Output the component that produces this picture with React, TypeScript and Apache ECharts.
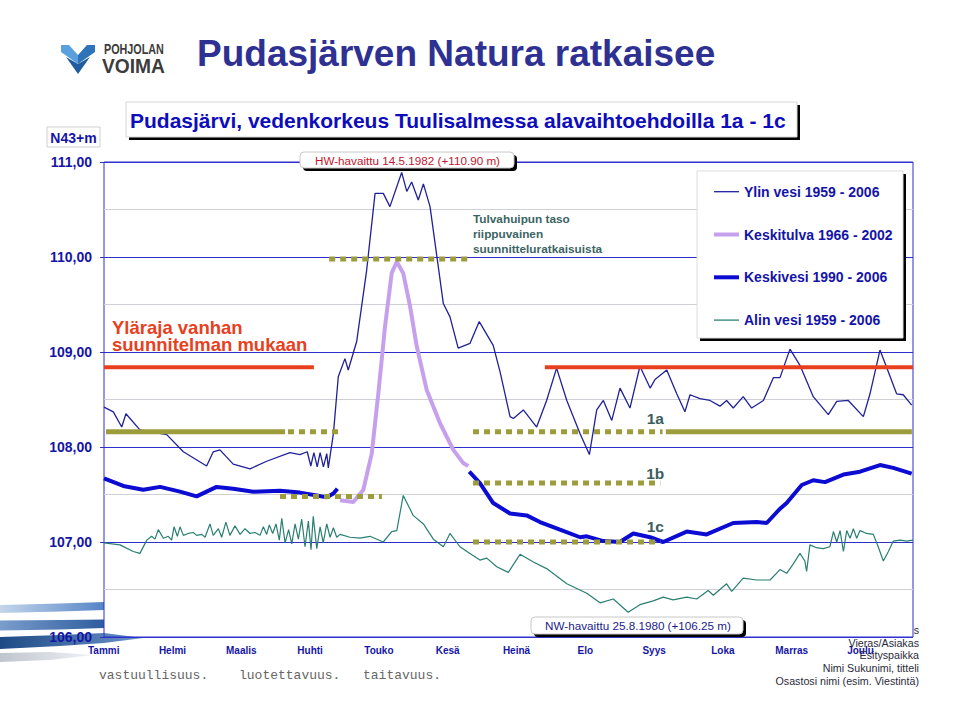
import React, { useEffect, useRef } from 'react';
import * as echarts from 'echarts';

// ---- categories / ticks ----
const kuukaudet = ['Tammi', 'Helmi', 'Maalis', 'Huhti', 'Touko', 'Kesä', 'Heinä', 'Elo', 'Syys', 'Loka', 'Marras', 'Joulu'];

// ---- series values: [day of year, water level N43+m] ----
const ylinVesi: [number, number][] = [
  [0, 108.42], [4.2, 108.37], [8.0, 108.21], [9.9, 108.35], [16.2, 108.18], [28.3, 108.13], [35.8, 107.95],
  [46.3, 107.80], [49.3, 107.95], [52.3, 107.97], [58.3, 107.82], [65.9, 107.77], [73.4, 107.85], [83.9, 107.94],
  [88.4, 107.92], [91.7, 107.95], [93.3, 107.80], [94.7, 107.94], [96.2, 107.79], [97.5, 107.94], [99.0, 107.79],
  [100.5, 107.93], [101.2, 107.78], [103.5, 108.14], [105.7, 108.74], [108.7, 108.93], [110.2, 108.81],
  [114.0, 109.11], [118.5, 109.86], [122.3, 110.67], [126.0, 110.67], [129.0, 110.53], [134.3, 110.89],
  [136.6, 110.69], [138.8, 110.79], [141.8, 110.60], [144.1, 110.77], [147.1, 110.53], [153.1, 109.51],
  [156.1, 109.37], [159.8, 109.04], [165.1, 109.09], [169.3, 109.32], [175.6, 109.07], [178.7, 108.79],
  [183.2, 108.32], [184.7, 108.30], [189.2, 108.39], [195.2, 108.21], [199.7, 108.49], [204.2, 108.83],
  [208.8, 108.49], [214.8, 108.14], [219.0, 107.92], [222.3, 108.39], [225.3, 108.49], [229.1, 108.28],
  [232.8, 108.62], [237.3, 108.41], [241.8, 108.85], [246.4, 108.62], [248.6, 108.71], [253.9, 108.81],
  [258.4, 108.56], [262.1, 108.37], [264.4, 108.55], [268.9, 108.51], [273.4, 108.49], [277.9, 108.43],
  [280.9, 108.49], [283.9, 108.41], [288.4, 108.53], [292.2, 108.41], [297.5, 108.49], [302.0, 108.73],
  [305.0, 108.73], [309.5, 109.03], [314.0, 108.86], [320.0, 108.53], [326.8, 108.34], [330.6, 108.48],
  [335.8, 108.49], [342.6, 108.32], [345.6, 108.56], [350.1, 109.02], [353.9, 108.79], [357.6, 108.56],
  [360.6, 108.55], [364.4, 108.44],
];

const keskitulva: [number, number][] = [
  [106.5, 107.44], [112.5, 107.42], [117.0, 107.55], [120.8, 107.93], [123.8, 108.57], [126.8, 109.27],
  [129.8, 109.83], [132.1, 109.95], [135.0, 109.83], [138.1, 109.48], [141.1, 109.06], [145.6, 108.60],
  [151.6, 108.25], [157.6, 107.97], [162.1, 107.83], [164.4, 107.80],
];

const keskivesiAlku: [number, number][] = [
  [0, 107.67], [8.7, 107.59], [17.7, 107.55], [25.3, 107.58], [34.3, 107.53], [41.8, 107.48], [50.8, 107.58],
  [58.3, 107.56], [67.4, 107.53], [79.4, 107.54], [88.4, 107.52], [96.0, 107.49], [100.5, 107.47],
  [103.5, 107.51], [105.3, 107.56],
];
const keskivesiLoppu: [number, number][] = [
  [164.8, 107.74], [169.6, 107.62], [175.6, 107.41], [183.2, 107.30], [190.7, 107.28], [196.7, 107.21],
  [205.7, 107.13], [214.8, 107.05], [217.8, 107.06], [225.3, 107.01], [232.8, 107.00], [238.8, 107.09],
  [246.4, 107.05], [252.3, 107.00], [262.9, 107.11], [271.9, 107.08], [283.9, 107.20], [294.5, 107.21],
  [299.0, 107.20], [305.0, 107.35], [308.0, 107.41], [314.8, 107.60], [320.0, 107.65], [325.3, 107.63],
  [333.6, 107.71], [341.1, 107.74], [350.1, 107.81], [356.1, 107.78], [364.4, 107.72],
];

const alinVesi: [number, number][] = [
  [0, 106.99], [7.2, 106.97], [13.2, 106.90], [16.2, 106.88], [19.3, 107.02], [21.5, 107.06], [23.0, 107.03],
  [24.5, 107.13], [26.8, 107.04], [29.0, 107.06], [30.5, 107.02], [31.6, 107.16], [33.1, 107.06], [34.3, 107.16],
  [35.8, 107.07], [38.0, 107.09], [40.3, 107.10], [41.8, 107.07], [44.1, 107.08], [45.6, 107.05], [47.8, 107.19],
  [49.3, 107.07], [51.6, 107.14], [53.1, 107.05], [55.0, 107.21], [56.8, 107.07], [59.1, 107.17], [61.4, 107.08],
  [63.6, 107.14], [65.9, 107.09], [68.1, 107.10], [70.4, 107.07], [71.9, 107.16], [73.4, 107.08], [74.6, 107.18],
  [76.1, 107.09], [77.6, 107.19], [79.1, 107.02], [80.2, 107.25], [81.7, 106.99], [83.3, 107.13], [84.7, 106.98],
  [86.2, 107.19], [87.7, 107.03], [89.2, 107.24], [90.7, 106.95], [92.2, 107.22], [93.4, 106.92], [94.4, 107.27],
  [96.0, 106.93], [97.5, 107.16], [98.9, 106.99], [100.5, 107.19], [102.0, 107.05], [103.5, 107.15],
  [105.0, 107.05], [106.5, 107.08], [111.0, 107.05], [115.5, 107.04], [120.0, 107.06], [126.0, 107.00],
  [129.8, 107.11], [132.1, 107.12], [135.0, 107.49], [139.5, 107.28], [144.1, 107.19], [148.6, 107.03],
  [153.1, 106.95], [156.1, 107.09], [160.6, 106.95], [165.1, 106.88], [169.6, 106.81], [172.7, 106.83],
  [177.2, 106.74], [182.4, 106.68], [187.7, 106.87], [193.7, 106.79], [199.7, 106.72], [208.8, 106.56],
  [217.8, 106.46], [223.8, 106.36], [229.8, 106.40], [236.5, 106.26], [241.8, 106.34], [247.8, 106.38],
  [252.3, 106.42], [256.8, 106.39], [262.9, 106.42], [267.4, 106.40], [272.6, 106.49], [274.9, 106.44],
  [280.9, 106.56], [283.2, 106.48], [288.4, 106.62], [294.5, 106.60], [300.5, 106.60], [305.0, 106.71],
  [308.0, 106.67], [311.0, 106.77], [314.0, 106.88], [316.2, 106.80], [317.0, 106.69], [318.5, 106.97],
  [321.5, 106.94], [324.5, 106.93], [327.5, 106.95], [329.1, 107.11], [330.6, 107.00], [332.1, 107.12],
  [333.6, 106.90], [335.1, 107.12], [336.6, 107.04], [338.1, 107.14], [339.6, 107.04], [341.1, 107.12],
  [344.1, 107.09], [347.1, 107.08], [349.3, 106.95], [351.6, 106.80], [353.9, 106.90], [356.1, 107.01],
  [359.2, 107.02], [362.2, 107.01], [365, 107.02],
];

// ---- regulation alternatives (levels) ----
const vaihtoehto1aKiintea1: [number, number][] = [[0.9, 108.16], [81.7, 108.16]];
const vaihtoehto1aPiste1: [number, number][] = [[83.0, 108.16], [105.6, 108.16]];
const tulvahuippuPiste: [number, number][] = [[101.6, 109.98], [164.9, 109.98]];
const vaihtoehto1aPiste2: [number, number][] = [[166.5, 108.16], [252.0, 108.16]];
const vaihtoehto1aKiintea2: [number, number][] = [[253.5, 108.16], [364.5, 108.16]];
const vaihtoehto1bPiste1: [number, number][] = [[79.4, 107.48], [125.4, 107.48]];
const vaihtoehto1bPiste2: [number, number][] = [[166.5, 107.62], [251.0, 107.62]];
const vaihtoehto1cPiste: [number, number][] = [[166.5, 107.0], [251.0, 107.0]];
const ylarajaVanha1: [number, number][] = [[0, 108.84], [94.7, 108.84]];
const ylarajaVanha2: [number, number][] = [[198.9, 108.84], [365, 108.84]];

const FONT = '"Liberation Sans", Arial, Helvetica, sans-serif';
const MONO = '"Liberation Mono", "DejaVu Sans Mono", monospace';
const NAVY = '#1515a6';
const GRIDBLUE = '#2f2fcc';
const OLIVE = '#9c9c3c';

const txt = (x: number, y: number, text: string, font: string, fill: string, align = 'left', z = 11, extra: any = {}) => ({
  type: 'text', x, y, z, silent: true, ...extra,
  style: { text, font, fill, textAlign: align, textVerticalAlign: 'middle' },
});

const boxWithShadow = (x: number, y: number, w: number, h: number, r: number, stroke: string, z = 10) => [
  { type: 'rect', z, silent: true, shape: { x: x + 3, y: y + 3, width: w, height: h, r }, style: { fill: '#000' } },
  { type: 'rect', z, silent: true, shape: { x, y, width: w, height: h, r }, style: { fill: '#fff', stroke, lineWidth: 1 } },
];

const grad = (c0: string, c1: string) => ({
  type: 'linear', x: 0, y: 0, x2: 1, y2: 0,
  colorStops: [{ offset: 0, color: c0 }, { offset: 1, color: c1 }],
});

export default function App() {
  const ref = useRef<HTMLDivElement>(null);
  useEffect(() => {
    const chart = echarts.init(ref.current!, null, { renderer: 'svg', width: 959, height: 720 });

    const lineSeries = (name: string, data: any[], color: string, width: number, extra: any = {}) => ({
      type: 'line', name, data, xAxisIndex: 0, yAxisIndex: 0, symbol: 'none', showSymbol: false,
      silent: true, animation: false, emphasis: { disabled: true },
      lineStyle: { color, width, ...(extra.lineStyle || {}) }, itemStyle: { color },
      z: extra.z ?? 2,
    });
    const dotted = { lineStyle: { type: [6, 5], cap: 'butt' }, z: 3 };
    const solidOlive = { lineStyle: { cap: 'butt' }, z: 3 };

    const graphics: any[] = [
      // decorative swoosh bottom-left
      { type: 'polygon', z: -1, silent: true, shape: { points: [[0, 605], [60, 603.5], [104, 602], [104, 610], [60, 611.5], [0, 613]] }, style: { fill: grad('#c5d6ec', '#5585c6') } },
      { type: 'polygon', z: -1, silent: true, shape: { points: [[0, 620.5], [60, 620], [104, 619.5], [104, 628], [60, 629.5], [0, 630.5]] }, style: { fill: grad('#7a9dcc', '#2e5d9e') } },
      { type: 'polygon', z: -1, silent: true, shape: { points: [[0, 637], [60, 635], [104, 633], [143, 638], [104, 643], [60, 646], [0, 649]] }, style: { fill: grad('#1d4a85', '#6d93c8') } },
      { type: 'polygon', z: -1, silent: true, shape: { points: [[0, 653], [50, 652], [93, 655], [50, 660], [0, 662]] }, style: { fill: grad('#bfc5cf', '#f0f2f5') } },

      // logo
      { type: 'polygon', z: 5, silent: true, shape: { points: [[61, 45], [69, 45], [78, 55], [78, 64], [61, 52]] }, style: { fill: '#5aa0dc' } },
      { type: 'polygon', z: 5, silent: true, shape: { points: [[95, 45], [87, 45], [78, 55], [78, 64], [95, 52]] }, style: { fill: '#2f73b8' } },
      { type: 'polygon', z: 5, silent: true, shape: { points: [[66, 57], [78, 64], [90, 57], [78, 74]] }, style: { fill: '#1f5d9e' } },
      txt(104, 50, 'POHJOLAN', `bold 14px ${FONT}`, '#3c3c3c', 'left', 11, { scaleX: 0.77 }),
      txt(102, 66, 'VOIMA', `bold 20px ${FONT}`, '#3c3c3c', 'left', 11, { scaleX: 0.96 }),

      // slide title
      txt(197, 53, 'Pudasjärven Natura ratkaisee', `bold 37px ${FONT}`, '#2e3192'),

      // chart title box
      ...boxWithShadow(126, 102, 671, 35, 0, '#d6d6d6'),
      txt(130, 120, 'Pudasjärvi, vedenkorkeus Tuulisalmessa alavaihtoehdoilla 1a - 1c', `bold 21px ${FONT}`, '#0d0dbb'),

      // unit box
      { type: 'rect', z: 10, silent: true, shape: { x: 47, y: 127, width: 53, height: 20 }, style: { fill: '#fff', stroke: '#cfcfcf', lineWidth: 1 } },
      txt(73.5, 137.5, 'N43+m', `bold 14px ${FONT}`, NAVY, 'center'),

      // HW box
      ...boxWithShadow(300, 152, 214, 16, 4, '#c8c8c8'),
      txt(407.5, 160.3, 'HW-havaittu 14.5.1982 (+110.90 m)', `11.7px ${FONT}`, '#c4162e', 'center'),

      // NW box
      ...boxWithShadow(531, 617, 212, 17, 4, '#c8c8c8'),
      txt(638, 625.8, 'NW-havaittu 25.8.1980 (+106.25 m)', `11.7px ${FONT}`, '#1c1c8c', 'center'),

      // legend box
      ...boxWithShadow(697, 171, 206, 167, 0, '#dcdcdc'),

      // annotations
      txt(112, 327.5, 'Yläraja vanhan', `bold 18.5px ${FONT}`, '#e8401e', 'left', 11),
      txt(112, 344.5, 'suunnitelman mukaan', `bold 18.5px ${FONT}`, '#e8401e', 'left', 11),
      txt(473, 218.8, 'Tulvahuipun taso', `bold 11.8px ${FONT}`, '#3b6464', 'left', 11),
      txt(473, 234, 'riippuvainen', `bold 11.8px ${FONT}`, '#3b6464', 'left', 11),
      txt(473, 249, 'suunnitteluratkaisuista', `bold 11.8px ${FONT}`, '#3b6464', 'left', 11),
      txt(655.3, 418.8, '1a', `bold 15.5px ${FONT}`, '#3b5e5e', 'center', 11),
      txt(655.3, 473.8, '1b', `bold 15.5px ${FONT}`, '#3b5e5e', 'center', 11),
      txt(655.3, 526.2, '1c', `bold 15.5px ${FONT}`, '#3b5e5e', 'center', 11),

      // footer
      txt(99, 675, 'vastuullisuus.', `13px ${MONO}`, '#666666', 'left', 11),
      txt(239, 675, 'luotettavuus.', `13px ${MONO}`, '#666666', 'left', 11),
      txt(363, 675, 'taitavuus.', `13px ${MONO}`, '#666666', 'left', 11),
      txt(919, 630, 's', `10.7px ${FONT}`, '#2b2b3b', 'right', 11),
      txt(919, 642.7, 'Vieras/Asiakas', `10.7px ${FONT}`, '#2b2b3b', 'right', 11),
      txt(919, 655, 'Esityspaikka', `10.7px ${FONT}`, '#2b2b3b', 'right', 11),
      txt(919, 668.3, 'Nimi Sukunimi, titteli', `10.7px ${FONT}`, '#2b2b3b', 'right', 11),
      txt(919, 681, 'Osastosi nimi (esim. Viestintä)', `10.7px ${FONT}`, '#2b2b3b', 'right', 11),
    ];

    const option: any = {
      animation: false,
      backgroundColor: '#ffffff',
      textStyle: { fontFamily: FONT },
      grid: [
        { left: 104, top: 162, width: 809, height: 475, show: true, borderColor: GRIDBLUE, borderWidth: 1, backgroundColor: 'transparent' },
        { left: 103.7, top: 162, width: 756.8, height: 475, show: false },
      ],
      xAxis: [
        { type: 'value', gridIndex: 0, min: 0, max: 365, axisLine: { show: false }, axisTick: { show: false }, axisLabel: { show: false }, splitLine: { show: false } },
        {
          type: 'category', gridIndex: 1, data: kuukaudet, boundaryGap: false, position: 'bottom',
          axisLine: { show: false }, axisTick: { show: false }, splitLine: { show: false },
          axisLabel: { interval: 0, margin: 8, fontSize: 10, fontWeight: 'bold', color: NAVY, fontFamily: FONT },
        },
      ],
      yAxis: [
        {
          type: 'value', gridIndex: 0, min: 106, max: 111, interval: 1,
          axisLine: { show: false },
          axisTick: { show: true, length: 4, lineStyle: { color: GRIDBLUE, width: 1 } },
          axisLabel: { margin: 12, fontSize: 14, fontWeight: 'bold', color: NAVY, fontFamily: FONT, formatter: (v: number) => v.toFixed(2).replace('.', ',') },
          splitLine: { show: true, lineStyle: { color: GRIDBLUE, width: 1 } },
          minorTick: { show: false, splitNumber: 2 },
          minorSplitLine: { show: true, lineStyle: { color: '#cfcfd6', width: 1 } },
        },
        { type: 'value', gridIndex: 1, min: 0, max: 1, show: false },
      ],
      legend: {
        data: [
          { name: 'Ylin vesi 1959 - 2006', lineStyle: { width: 1.3, color: '#20209a' } },
          { name: 'Keskitulva 1966 - 2002', lineStyle: { width: 4, color: '#c6a0ec' } },
          { name: 'Keskivesi 1990 - 2006', lineStyle: { width: 4, color: '#0b0bd2' } },
          { name: 'Alin vesi 1959 - 2006', lineStyle: { width: 1.3, color: '#2a7f73' } },
        ],
        orient: 'vertical', left: 712, top: 184.7, itemWidth: 25, itemHeight: 14, itemGap: 28.8, padding: 0,
        selectedMode: false, z: 12,
        itemStyle: { opacity: 0 },
        textStyle: { fontSize: 14, fontWeight: 'bold', color: '#1414a8', fontFamily: FONT },
      },
      graphic: { elements: graphics },
      series: [
        lineSeries('Alin vesi 1959 - 2006', alinVesi, '#2a7f73', 1.2),
        lineSeries('Ylin vesi 1959 - 2006', ylinVesi, '#20209a', 1.3),
        lineSeries('Keskivesi 1990 - 2006', [...keskivesiAlku, [135, '-'], ...keskivesiLoppu], '#0b0bd2', 4),
        lineSeries('Keskitulva 1966 - 2002', keskitulva, '#c6a0ec', 4),
        lineSeries('1a kiinteä alku', vaihtoehto1aKiintea1, OLIVE, 5, solidOlive),
        lineSeries('1a pisteet alku', vaihtoehto1aPiste1, OLIVE, 5, dotted),
        lineSeries('tulvahuippu', tulvahuippuPiste, OLIVE, 5, dotted),
        lineSeries('1a pisteet', vaihtoehto1aPiste2, OLIVE, 5, dotted),
        lineSeries('1a kiinteä loppu', vaihtoehto1aKiintea2, OLIVE, 5, solidOlive),
        lineSeries('1b pisteet alku', vaihtoehto1bPiste1, OLIVE, 5, dotted),
        lineSeries('1b pisteet', vaihtoehto1bPiste2, OLIVE, 5, dotted),
        lineSeries('1c pisteet', vaihtoehto1cPiste, OLIVE, 5, dotted),
        lineSeries('Yläraja 1', ylarajaVanha1, '#e8401e', 4, { z: 4 }),
        lineSeries('Yläraja 2', ylarajaVanha2, '#e8401e', 4, { z: 4 }),
      ],
    };
    chart.setOption(option);
    return () => chart.dispose();
  }, []);
  return <div ref={ref} style={{ position: 'fixed', left: 0, top: 0, width: 959, height: 720, background: '#fff' }} />;
}
